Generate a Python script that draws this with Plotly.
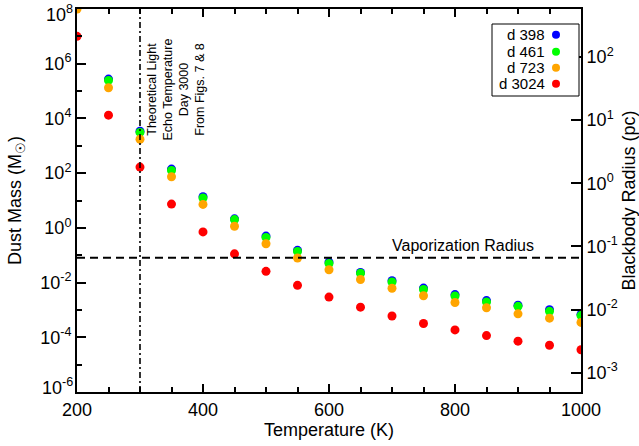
import plotly.graph_objects as go

# ---------------- data ----------------
TEMPERATURE_K = [200, 250, 300, 350, 400, 450, 500, 550, 600, 650, 700, 750, 800, 850, 900, 950, 1000]

MASS_D398 = [None, 2.75e5, 3.39e3, 141, 13.8, 2.14, 0.50, 0.151, 0.056, 0.0234, 0.0117,
             0.0063, 0.00363, 0.00219, 0.00148, 0.00102, 0.00069]
MASS_D461 = [None, 2.45e5, 3.09e3, 126, 12.3, 2.0, 0.447, 0.138, 0.050, 0.0219, 0.0105,
             0.0056, 0.00324, 0.00195, 0.00135, 0.00089, 0.00062]
MASS_D723 = [1.0e8, 1.32e5, 1.74e3, 74, 7.2, 1.15, 0.263, 0.079, 0.0295, 0.0129, 0.0062,
             0.0033, 0.00186, 0.0012, 0.00072, 0.0005, 0.00035]
MASS_D3024 = [1.0e7, 1.32e4, 166, 7.4, 0.71, 0.112, 0.0257, 0.0079, 0.00295, 0.00126, 6.0e-4,
              3.2e-4, 1.86e-4, 1.15e-4, 7.2e-5, 5.1e-5, 3.5e-5]

SERIES_NAMES = ["d 398", "d 461", "d 723", "d 3024"]
SERIES_COLORS = ["#0000ff", "#00ff00", "#ffa500", "#ff0000"]

LIGHT_ECHO_TEMP_K = 300
VAPORIZATION_RADIUS_PC = 0.066

X_RANGE = [200, 1000]
X_TICKS = [200, 400, 600, 800, 1000]
MASS_LOG_RANGE = [-6.0002, 8.0002]
MASS_TICK_EXP = [-6, -4, -2, 0, 2, 4, 6, 8]
MASS_MINOR_EXP = [-5, -3, -1, 1, 3, 5, 7]
RADIUS_LOG_RANGE = [-3.306, 2.76]
RADIUS_TICK_EXP = [-3, -2, -1, 0, 1, 2]

FONT = "Liberation Sans, Arial, sans-serif"

fig = go.Figure()

for name, color, ys in zip(SERIES_NAMES, SERIES_COLORS,
                           [MASS_D398, MASS_D461, MASS_D723, MASS_D3024]):
    fig.add_trace(go.Scatter(
        x=TEMPERATURE_K, y=ys, mode="markers", name=name,
        marker=dict(color=color, size=9, line=dict(width=0)),
        showlegend=False,
    ))

# Vaporization radius (right axis)
fig.add_trace(go.Scatter(
    x=X_RANGE, y=[VAPORIZATION_RADIUS_PC, VAPORIZATION_RADIUS_PC],
    mode="lines", yaxis="y2", showlegend=False, cliponaxis=True,
    line=dict(color="black", width=2, dash="8px,5px"),
))

# Vertical dash-dot line
fig.add_shape(type="line", xref="x", yref="paper",
              x0=LIGHT_ECHO_TEMP_K, x1=LIGHT_ECHO_TEMP_K, y0=0, y1=1,
              line=dict(color="black", width=1.6, dash="6px,3px,2px,3px"))

fig.add_annotation(
    text="Theoretical Light<br>Echo Temperature<br>Day 3000<br>From Figs. 7 &amp; 8",
    xref="paper", yref="paper", x=(176.5 - 77) / 504, y=(392 - 90) / 383,
    xanchor="center", yanchor="middle", textangle=-90, showarrow=False,
    font=dict(family=FONT, size=12.5, color="black"), align="center",
)

fig.add_annotation(
    text="Vaporization Radius", xref="paper", yref="paper",
    x=(536 - 77) / 504, y=(392 - 245) / 383, xanchor="right", yanchor="middle",
    showarrow=False, font=dict(family=FONT, size=16, color="black"),
)

# Manual legend (text then marker on the right)
LEG_X0, LEG_X1 = (492 - 77) / 504, (579 - 77) / 504
LEG_Y0, LEG_Y1 = (392 - 96) / 383, (392 - 24) / 383
fig.add_shape(type="rect", xref="paper", yref="paper",
              x0=LEG_X0, x1=LEG_X1, y0=LEG_Y0, y1=LEG_Y1,
              line=dict(color="black", width=1), fillcolor="white", layer="above")
row_px = [34.7, 51.7, 67.7, 83.7]
for name, color, py in zip(SERIES_NAMES, SERIES_COLORS, row_px):
    yp = (392 - py) / 383
    fig.add_annotation(text=name, xref="paper", yref="paper",
                       x=(546 - 77) / 504, y=yp, xanchor="right", yanchor="middle",
                       showarrow=False, borderpad=0,
                       font=dict(family=FONT, size=15, color="black"))
    xc = (556 - 77) / 504
    fig.add_shape(type="circle", xref="paper", yref="paper",
                  xsizemode="pixel", ysizemode="pixel", xanchor=xc, yanchor=yp,
                  x0=-4, x1=4, y0=-4, y1=4,
                  fillcolor=color, line=dict(width=0), layer="above")

def pow_label(e):
    return "10<sup>%d</sup>" % e

# End labels of the left axis are nudged inside the axis extent (as in the original)
END_EXPS = (MASS_TICK_EXP[0], MASS_TICK_EXP[-1])
left_ticktext = ["" if e in END_EXPS else pow_label(e) for e in MASS_TICK_EXP]
for e, ypaper, shift in ((MASS_TICK_EXP[-1], 1, -4), (MASS_TICK_EXP[0], 0, 6)):
    fig.add_annotation(text=pow_label(e), xref="paper", yref="paper", x=0, y=ypaper,
                       xanchor="right", yanchor="middle", xshift=-3, yshift=shift,
                       showarrow=False, borderpad=0,
                       font=dict(family=FONT, size=18, color="black"))

fig.update_layout(
    template="none",
    width=639, height=446,
    margin=dict(l=77, r=58, t=9, b=54, autoexpand=False),
    paper_bgcolor="white", plot_bgcolor="white",
    font=dict(family=FONT, size=18, color="black"),
    xaxis=dict(
        range=X_RANGE, tickmode="array", tickvals=X_TICKS, automargin=False,
        ticks="inside", ticklen=8, tickwidth=1.5, tickcolor="black",
        showline=True, linewidth=2, linecolor="black", mirror="ticks",
        showgrid=False, zeroline=False, ticklabeloverflow="allow",
        minor=dict(dtick=50, ticks="inside", ticklen=5, tickwidth=1.5, tickcolor="black", showgrid=False),
        title=dict(text="Temperature (K)", standoff=2, font=dict(size=18)),
        tickfont=dict(size=18),
    ),
    yaxis=dict(
        type="log", range=MASS_LOG_RANGE, tickmode="array", automargin=False,
        tickvals=[10.0 ** e for e in MASS_TICK_EXP],
        ticktext=left_ticktext,
        ticks="inside", ticklen=9, tickwidth=1.5, tickcolor="black",
        showline=True, linewidth=2, linecolor="black", mirror=False,
        showgrid=False, zeroline=False, ticklabeloverflow="allow",
        minor=dict(tickmode="array", tickvals=[10.0 ** e for e in MASS_MINOR_EXP],
                   ticks="inside", ticklen=5, tickwidth=1.5, tickcolor="black", showgrid=False),
        title=dict(text="Dust Mass (M<sub>☉</sub>)", standoff=14, font=dict(size=18)),
        tickfont=dict(size=18),
    ),
    yaxis2=dict(
        type="log", range=RADIUS_LOG_RANGE, overlaying="y", side="right", anchor="x",
        automargin=False,
        tickmode="array", tickvals=[10.0 ** e for e in RADIUS_TICK_EXP],
        ticktext=[pow_label(e) for e in RADIUS_TICK_EXP],
        ticks="inside", ticklen=10, tickwidth=1.5, tickcolor="black",
        showline=True, linewidth=2, linecolor="black",
        showgrid=False, zeroline=False, ticklabeloverflow="allow",
        title=dict(text="Blackbody Radius (pc)", standoff=7, font=dict(size=18)),
        tickfont=dict(size=18),
    ),
    showlegend=False,
)

fig.write_html("out.html", config={"displayModeBar": False},
               post_script="document.body.style.margin='0px';")
